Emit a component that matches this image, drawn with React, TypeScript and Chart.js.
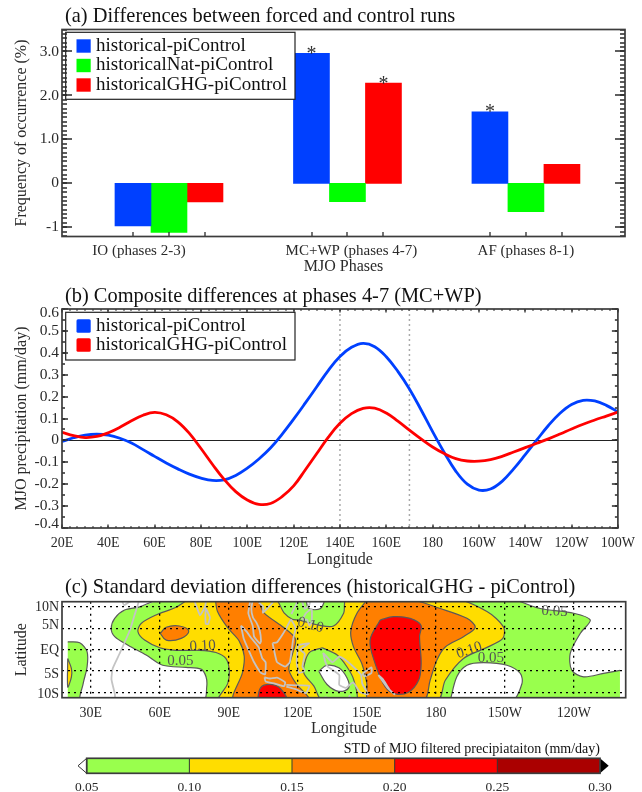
import { useEffect, useRef } from 'react';
import { Chart, registerables } from 'chart.js';
Chart.register(...registerables);

const SERIF = '"Liberation Serif", "Times New Roman", serif';
const BLUE = '#0040FF';
const GREEN = '#00FF00';
const RED = '#FF0000';
const INK = '#2a2a2a';
const AXIS = '#2a2a2a';

// ---------- Panel (a)
const phaseCenters = [1, 2, 3];
const phaseLabels = ['IO (phases 2-3)', 'MC+WP (phases 4-7)', 'AF (phases 8-1)'];
const historicalBars = [-0.97, 2.96, 1.625];
const natBars = [-1.12, -0.42, -0.645];
const ghgBars = [-0.425, 2.28, 0.43];
const historicalStars = [false, true, true];
const natStars = [false, false, false];
const ghgStars = [false, true, false];
const phaseTicks = [0.8, 1, 1.2, 1.8, 2, 2.2, 2.8, 3, 3.2];
const freqTicks = [-1, 0, 1, 2, 3];
const freqLabels = ['-1', '0', '1.0', '2.0', '3.0'];

// ---------- Panel (b)
const lons = [20, 25, 30, 35, 40, 45, 50, 55, 60, 65, 70, 75, 80, 85, 90, 95, 100, 105, 110, 115, 120, 125, 130, 135, 140, 145, 150, 155, 160, 165, 170, 175, 180, 185, 190, 195, 200, 205, 210, 215, 220, 225, 230, 235, 240, 245, 250, 255, 260];
const historicalPrecip = [-0.005, 0.012, 0.024, 0.028, 0.024, 0.01, -0.012, -0.042, -0.073, -0.103, -0.13, -0.154, -0.172, -0.183, -0.18, -0.16, -0.127, -0.085, -0.035, 0.028, 0.097, 0.17, 0.245, 0.32, 0.383, 0.425, 0.443, 0.428, 0.382, 0.315, 0.235, 0.14, 0.04, -0.055, -0.14, -0.2, -0.227, -0.222, -0.187, -0.13, -0.065, 0.002, 0.068, 0.124, 0.164, 0.183, 0.18, 0.16, 0.13];
const ghgPrecip = [0.037, 0.022, 0.013, 0.018, 0.035, 0.06, 0.09, 0.115, 0.128, 0.117, 0.085, 0.032, -0.037, -0.11, -0.178, -0.234, -0.272, -0.292, -0.288, -0.257, -0.208, -0.135, -0.06, 0.015, 0.078, 0.122, 0.146, 0.147, 0.125, 0.088, 0.047, 0.007, -0.03, -0.06, -0.083, -0.094, -0.095, -0.088, -0.073, -0.053, -0.033, -0.013, 0.007, 0.029, 0.052, 0.074, 0.093, 0.111, 0.129];
const lonTicksB = [20, 40, 60, 80, 100, 120, 140, 160, 180, 200, 220, 240, 260];
const lonLabelsB = ['20E', '40E', '60E', '80E', '100E', '120E', '140E', '160E', '180', '160W', '140W', '120W', '100W'];
const precipTicks = [-0.4, -0.3, -0.2, -0.1, 0, 0.1, 0.2, 0.3, 0.4, 0.5, 0.6];
const precipLabels = ['-0.4', '-0.3', '-0.2', '-0.1', '0', '0.1', '0.2', '0.3', '0.4', '0.5', '0.6'];
const boxLons = [140, 170];

// ---------- Panel (c): contours as [lon, lat]
type P = [number, number];
const baseGreen: P[] = [[20, -12], [260, -12], [260, 12], [20, 12], [20, -12]];
const whiteNorthWest: P[] = [[15, 12], [60.3, 12], [51.2, 10], [44.7, 9.25], [40.4, 7.3], [38.9, 4.9], [40.4, 3], [46.2, 1], [54.1, -1.3], [61.3, -3.7], [71.4, -4.2], [77.9, -4.6], [80.1, -6.4], [80.4, -8.8], [78.9, -12], [26, -12], [26.7, -8], [28.4, -4.1], [28.4, -0.5], [25.2, 1.6], [20, 1.8], [15, 1.8], [15, 12]];
const whiteEast: P[] = [[213, 12], [225.4, 9.6], [239.9, 8.5], [247.1, 6.9], [242.8, 3.8], [238.4, -0.9], [239.1, -4.9], [244.2, -6.4], [252.9, -5.6], [260.1, -4.9], [270, -4.9], [270, 12], [213, 12]];
const whiteSouth: P[] = [[186.2, -12], [189.1, -6.4], [193.5, -3.7], [200.7, -3.1], [210.9, -3.7], [216.7, -5.6], [217.4, -8], [213.1, -12], [186.2, -12]];
const whiteTop: P[] = [[123.4, 12], [124.8, 9.6], [129.9, 9.6], [131.3, 12], [123.4, 12]];
const yellowMain: P[] = [[72.9, 12], [67.1, 9.9], [58.4, 8.1], [51.9, 6.1], [50.5, 4.2], [53.4, 2.2], [60, 0.4], [67.1, -0.2], [77.2, -0.2], [84.4, -0.7], [88.7, -2.1], [90.2, -4.9], [89.5, -8], [85.8, -12], [180.4, -12], [184.1, -7.2], [192, -2.1], [202.2, 0.5], [209.1, 2.6], [209.4, 5.3], [202.2, 8.9], [187.7, 12], [141.3, 12], [139.9, 8.5], [135.5, 5.5], [129.1, 5.7], [120.5, 6.9], [117.6, 7.1], [114, 8.6], [109.7, 12], [72.9, 12]];
const yellowWest: P[] = [[20, -2.1], [21.6, -4.5], [21.6, -6.4], [20, -8.8], [20, -2.1]];
const greenMid: P[] = [[130.6, 0.4], [125.5, -0.5], [123.4, -2.4], [122.6, -5.5], [127, -8.6], [130.6, -12], [145.3, -12], [144.3, -7.1], [141.4, -4.1], [137.1, -1.3], [130.6, 0.4]];
const whiteHole: P[] = [[129.1, -5.1], [132.7, -3.7], [137.8, -4.3], [141.4, -6.7], [142.1, -9], [137.8, -9.8], [132.7, -8.2], [129.1, -5.1]];
const orangeSmall: P[] = [[60.2, 3.8], [62.8, 5.2], [68.5, 5.5], [72.6, 4.3], [69.3, 2.6], [62.8, 2.2], [60.2, 3.8]];
const orangeCentre: P[] = [[84.1, 12], [85.1, 8.9], [89.5, 5.1], [94.5, 2], [96.7, -1.6], [95.9, -5.5], [92.3, -12], [124.8, -12], [119, -7.8], [116.1, -4.7], [117.6, -1.2], [119, 2.4], [114, 5.1], [105.3, 8.6], [101.7, 12], [84.1, 12]];
const orangeEast: P[] = [[150.7, 12], [145.7, 8.5], [143, 4.2], [144.2, 0.6], [147.8, -3.3], [150, -8], [150.7, -12], [174.6, -12], [177.5, -7.2], [180.4, -2.5], [184.1, 0.6], [192, 3], [197.1, 5.2], [193.5, 7.3], [181.9, 9.6], [167.4, 12], [150.7, 12]];
const redEast: P[] = [[155.8, 6.9], [151.4, 2.2], [153.6, -3.3], [158, -8.8], [162.3, -10.4], [168.1, -10], [172.5, -7.2], [173.6, -3.3], [172.9, 3], [173.5, 5.7], [168.8, 7.3], [161.6, 7.7], [155.8, 6.9]];
const redSouth: P[] = [[102.4, -12], [103.9, -8.9], [108.2, -8.2], [112.5, -9.2], [115, -12], [102.4, -12]];

const C_GREEN = '#99FF4D';
const C_YELLOW = '#FFDD00';
const C_ORANGE = '#FF7F00';
const C_RED = '#FF0000';
const C_DARK = '#AA0000';

// coastlines [lon, lat]
const coastAfrica: P[] = [[43.3, 11.8], [44.5, 10.4], [47, 11.2], [51, 11.8], [49, 8], [47, 4.5], [42.5, -1], [39.5, -4.5], [39, -7], [40.5, -10.5], [40.5, -12]];
const coastIndia: P[] = [[74.6, 12], [76, 10], [77.5, 8], [79, 9.3], [79.8, 10.3], [80.2, 12]];
const coastLanka: P[] = [[80, 9.7], [81.8, 7.5], [81, 6], [80, 6], [79.8, 8], [80, 9.7]];
const coastMalay: P[] = [[99.5, 12], [98.5, 8.5], [100.4, 5.5], [101, 3], [103.5, 1.4], [104, 2], [103.4, 4.5], [102, 6.3], [100.5, 7.5], [99.8, 9.5], [100.5, 12]];
const coastIndochina: P[] = [[103, 11], [105, 10], [104.8, 8.6], [106.5, 9.5], [109, 11], [109.3, 12]];
const coastSumatra: P[] = [[95.3, 5.6], [98, 4], [100, 2.5], [103, 0.5], [104.5, -2], [106, -3], [105.8, -5.8], [104, -5.5], [101, -3], [98.5, 0], [96.5, 2.5], [95.3, 5.6]];
const coastJava: P[] = [[105.5, -6.5], [108, -6.8], [111, -6.6], [114.5, -7.7], [114, -8.6], [110, -8], [106, -7.5], [105.5, -6.5]];
const coastLesser: P[] = [[115, -8.3], [119, -8.4], [125, -8.5], [123.5, -10.2], [119, -9.3], [115, -8.7]];
const coastBorneo: P[] = [[109, 1.5], [111, 1.7], [113, 3.2], [115, 5], [117, 7], [119, 5], [118, 2.5], [117.5, 0.5], [116.5, -3], [114.5, -4], [111, -3], [110, -1], [109, 1.5]];
const coastSulawesi: P[] = [[120, 1], [125, 1.5], [121, 0], [123, -1], [122, -4], [123, -5], [120.5, -5.5], [119.5, -3], [120, 1]];
const coastMindanao: P[] = [[122, 7], [123.5, 8.5], [126, 9.5], [126, 6.5], [125, 5.6], [124, 7], [122, 7]];
const coastVisayas: P[] = [[117.2, 8.3], [119.5, 10.8], [120, 12], [122, 11], [123, 9.5], [125, 10.5], [125.5, 12]];
const coastGuinea: P[] = [[131, -0.8], [135, -3], [138, -1.7], [141, -2.6], [145, -4.5], [147.5, -6], [148, -8], [150.5, -10.5], [147, -10], [144, -7.7], [141, -9], [138, -8.3], [138, -6], [133, -4], [132, -3], [131, -0.8]];
const coastBritain: P[] = [[148, -5.7], [152, -4.2], [152, -5.5], [149, -6.3], [148, -5.7]];
const coastSolomon: P[] = [[155, -6], [157, -7], [160, -9.5], [162, -10.5], [159, -9], [155, -6]];
const coastAustralia: P[] = [[130, -12], [132, -11.2], [136, -12], [141.5, -12], [142.5, -10.8], [143, -12]];
const coasts = [coastAfrica, coastIndia, coastLanka, coastMalay, coastIndochina, coastSumatra, coastJava, coastLesser, coastBorneo, coastSulawesi, coastMindanao, coastVisayas, coastGuinea, coastBritain, coastSolomon, coastAustralia];

const lonTicksC = [30, 60, 90, 120, 150, 180, 210, 240];
const lonLabelsC = ['30E', '60E', '90E', '120E', '150E', '180', '150W', '120W'];
const latTicks = [-10, -5, 0, 5, 10];
const latLabels = ['10S', '5S', 'EQ', '5N', '10N'];
const contourTexts = ['0.10', '0.05', '0.10', '0.05', '0.10', '0.05'];
const contourLons = [78.6, 69, 125.5, 231.6, 194.5, 203.9];
const contourLats = [0.8, -2.7, 5.7, 8.9, -0.2, -2.1];
const contourAngles = [-3, 0, 15, 3, -18, 0];

// ---------- Colour bar
const levels = [0.05, 0.1, 0.15, 0.2, 0.25, 0.3];
const levelColors = [C_GREEN, C_YELLOW, C_ORANGE, C_RED, C_DARK];

function range(a: number, b: number, s: number) {
  const out: number[] = [];
  const n = Math.round((b - a) / s);
  for (let i = 0; i <= n; i++) out.push(a + i * s);
  return out;
}

const setTicks = (vals: number[]) => (axis: any) => {
  axis.ticks = vals.map((value) => ({ value }));
};
const labelFor = (vals: number[], labels: string[]) => (v: any) => {
  const i = vals.findIndex((t) => Math.abs(t - v) < 1e-6);
  return i >= 0 ? labels[i] : '';
};

function xScale(min: number, max: number, ticks: number[], labels: string[], height: number, size: number, pad: number, title: string | null, titlePad: number, extra: any = {}) {
  return {
    type: 'linear', min, max, offset: false,
    afterBuildTicks: setTicks(ticks),
    afterFit: (s: any) => { s.height = height; },
    border: { display: false },
    grid: { display: false, drawTicks: false, offset: false },
    ticks: { autoSkip: false, maxRotation: 0, minRotation: 0, padding: pad, color: INK, font: { family: SERIF, size }, callback: labelFor(ticks, labels) },
    title: title ? { display: true, text: title, color: INK, font: { family: SERIF, size: 16 }, padding: { top: 0, bottom: titlePad } } : { display: false },
    ...extra,
  };
}
function yScale(min: number, max: number, ticks: number[], labels: string[], size: number, title: string, extra: any = {}) {
  return {
    type: 'linear', min, max,
    afterBuildTicks: setTicks(ticks),
    afterFit: (s: any) => { s.width = 62; },
    border: { display: false },
    grid: { display: false, drawTicks: false },
    ticks: { autoSkip: false, padding: 3, color: INK, font: { family: SERIF, size }, callback: labelFor(ticks, labels) },
    title: { display: true, text: title, color: INK, font: { family: SERIF, size: 16 }, padding: { top: 12.4, bottom: 0 } },
    ...extra,
  };
}
function titleOpt(text: string, top: number, bottom: number, size = 20.4, align = 'start') {
  return {
    display: true, text, align, fullSize: false, color: '#111',
    font: { family: SERIF, size, weight: 'normal', lineHeight: size === 20.4 ? '20px' : '16px' },
    padding: { top, bottom },
  };
}

type TickSpec = { x?: [number[], number][]; xTop?: [number[], number][]; y?: [number[], number][]; nudge?: Record<string, number>; xNudge?: Record<string, number> };
function framePlugin(spec: TickSpec, before?: (chart: any) => void, shift = 3) {
  return {
    id: 'frameTicks',
    afterLayout(chart: any) {
      if (chart.titleBlock && shift) { chart.titleBlock.left += shift; chart.titleBlock.right += shift; }
    },
    beforeDraw(chart: any) {
      if (spec.nudge) {
        chart.scales.y.getLabelItems(chart.chartArea).forEach((it: any) => {
          const d = spec.nudge![it.label];
          if (d && !it.__n) { it.options.translation[1] += d; it.__n = true; }
        });
      }
      if (spec.xNudge) {
        chart.scales.x.getLabelItems(chart.chartArea).forEach((it: any) => {
          const d = spec.xNudge![it.label];
          if (d && !it.__n) { it.options.translation[0] += d; it.__n = true; }
        });
      }
    },
    afterDraw(chart: any) {
      const { ctx, chartArea: a, scales } = chart;
      if (before) before(chart);
      ctx.save();
      ctx.strokeStyle = AXIS;
      ctx.lineWidth = 1.3;
      ctx.setLineDash([]);
      const ys = spec.y || [];
      ys.forEach(([vals, len]) => {
        vals.forEach((v) => {
          const p = Math.round(scales.y.getPixelForValue(v));
          ctx.beginPath();
          ctx.moveTo(a.left, p); ctx.lineTo(a.left + len, p);
          ctx.moveTo(a.right, p); ctx.lineTo(a.right - len, p);
          ctx.stroke();
        });
      });
      const xs = spec.x || [];
      xs.forEach(([vals, len]) => {
        vals.forEach((v) => {
          const p = Math.round(scales.x.getPixelForValue(v));
          ctx.beginPath(); ctx.moveTo(p, a.bottom); ctx.lineTo(p, a.bottom - len); ctx.stroke();
        });
      });
      const xt = spec.xTop || [];
      xt.forEach(([vals, len]) => {
        vals.forEach((v) => {
          const p = Math.round(scales.x.getPixelForValue(v));
          ctx.beginPath(); ctx.moveTo(p, a.top); ctx.lineTo(p, a.top + len); ctx.stroke();
        });
      });
      ctx.strokeStyle = '#3c3c3c';
      ctx.lineWidth = 1.7;
      ctx.strokeRect(a.left, a.top, a.right - a.left, a.bottom - a.top);
      ctx.restore();
    },
  };
}

function drawLegend(chart: any, box: number[], rowY: number[], radius: number) {
  const { ctx } = chart;
  ctx.save();
  ctx.fillStyle = '#fff';
  ctx.strokeStyle = '#222';
  ctx.lineWidth = 1.2;
  ctx.fillRect(box[0], box[1], box[2], box[3]);
  ctx.strokeRect(box[0], box[1], box[2], box[3]);
  chart.data.datasets.forEach((d: any, i: number) => {
    ctx.fillStyle = d.swatch || d.backgroundColor;
    ctx.beginPath();
    ctx.roundRect(76.5, rowY[i] - 6.7, 14.2, 13.4, radius);
    ctx.fill();
    ctx.fillStyle = '#111';
    ctx.font = `19px ${SERIF}`;
    ctx.textAlign = 'left';
    ctx.textBaseline = 'middle';
    ctx.fillText(d.label, 96, rowY[i]);
  });
  ctx.restore();
}

function configA() {
  const sets = [historicalBars, natBars, ghgBars];
  const flags = [historicalStars, natStars, ghgStars];
  const names = ['historical-piControl', 'historicalNat-piControl', 'historicalGHG-piControl'];
  const colors = [BLUE, GREEN, RED];
  return {
    type: 'bar',
    data: {
      datasets: sets.map((vals, i) => ({
        label: names[i],
        data: vals.map((y, k) => ({ x: phaseCenters[k], y })),
        backgroundColor: colors[i],
        barThickness: 36,
      })),
    },
    options: {
      animation: false, responsive: false, devicePixelRatio: 1,
      layout: { autoPadding: false, padding: { right: 17 } },
      plugins: { legend: { display: false }, tooltip: { enabled: false }, title: titleOpt('(a) Differences between forced and control runs', 7, 2.5) },
      scales: {
        x: xScale(0.4006, 3.555, phaseTicks, phaseLabels.flatMap((l) => ['', l, '']), 278 - 236.5, 15, 6, 'MJO Phases', 1.4),
        y: yScale(-1.21, 3.5, freqTicks, freqLabels, 15.5, 'Frequency of occurrence (%)'),
      },
    },
    plugins: [framePlugin({ x: [[phaseTicks, 4.5]], y: [[range(-1.2, 3.5, 0.1), 5], [freqTicks, 10]], xNudge: { 'IO (phases 2-3)': -30, 'MC+WP (phases 4-7)': 4 } }, (chart: any) => {
      const { ctx } = chart;
      drawLegend(chart, [65.7, 32.3, 229.3, 67], [46, 65.5, 85], 0);
      ctx.save();
      ctx.fillStyle = '#333';
      ctx.font = `20px ${SERIF}`;
      ctx.textAlign = 'center';
      ctx.textBaseline = 'alphabetic';
      flags.forEach((row, i) => row.forEach((on, k) => {
        if (!on) return;
        const el = chart.getDatasetMeta(i).data[k];
        ctx.fillText('*', el.x, el.y + 6.4);
      }));
      ctx.restore();
    })],
  };
}

function configB() {
  return {
    type: 'scatter',
    data: {
      datasets: [
        { label: 'historical-piControl', data: lons.map((x, i) => ({ x, y: historicalPrecip[i] })), borderColor: BLUE, backgroundColor: BLUE, swatch: BLUE, order: 2 },
        { label: 'historicalGHG-piControl', data: lons.map((x, i) => ({ x, y: ghgPrecip[i] })), borderColor: RED, backgroundColor: RED, swatch: RED, order: 1 },
      ].map((d) => ({ ...d, showLine: true, pointRadius: 0, borderWidth: 2.8, tension: 0.4, capBezierPoints: false })),
    },
    options: {
      animation: false, responsive: false, devicePixelRatio: 1,
      layout: { autoPadding: false, padding: { right: 17 } },
      plugins: { legend: { display: false }, tooltip: { enabled: false }, title: titleOpt('(b) Composite differences at phases 4-7 (MC+WP)', 7, 2) },
      scales: {
        x: xScale(20, 260, lonTicksB, lonLabelsB, 42, 14, 7, 'Longitude', 0.4),
        y: yScale(-0.4, 0.6, precipTicks, precipLabels, 15.5, 'MJO precipitation (mm/day)'),
      },
    },
    plugins: [
      {
        id: 'refLines',
        beforeDatasetsDraw(chart: any) {
          const { ctx, chartArea: a, scales } = chart;
          ctx.save();
          ctx.strokeStyle = '#aaa';
          ctx.lineWidth = 1.5;
          ctx.setLineDash([2, 3]);
          boxLons.forEach((v) => {
            const p = scales.x.getPixelForValue(v);
            ctx.beginPath(); ctx.moveTo(p, a.top); ctx.lineTo(p, a.bottom); ctx.stroke();
          });
          ctx.setLineDash([]);
          ctx.strokeStyle = '#222';
          ctx.lineWidth = 1;
          const z = Math.round(scales.y.getPixelForValue(0)) + 0.5;
          ctx.beginPath(); ctx.moveTo(a.left, z); ctx.lineTo(a.right, z); ctx.stroke();
          ctx.restore();
        },
      },
      framePlugin({
        x: [[range(20, 260, 20 / 6), 1.8], [lonTicksB, 3.5]],
        xTop: [[range(20, 260, 20 / 6), 1.8], [lonTicksB, 3.5]],
        y: [[range(-0.4, 0.6, 0.05), 3], [precipTicks, 6]],
        nudge: { '0.6': 4, '-0.4': -4 },
      }, (chart: any) => drawLegend(chart, [65.7, 32.3, 229.3, 47.7], [46, 65], 1.5)),
    ],
  };
}

function configC() {
  const fills: [P[], string, boolean, number][] = [
    [baseGreen, C_GREEN, false, 0],
    [whiteNorthWest, '#fff', false, 0.3],
    [whiteEast, '#fff', false, 0.3],
    [whiteSouth, '#fff', true, 0.3],
    [whiteTop, '#fff', true, 0.3],
    [yellowMain, C_YELLOW, true, 0.3],
    [yellowWest, C_YELLOW, true, 0.3],
    [greenMid, C_GREEN, true, 0.3],
    [whiteHole, '#fff', true, 0.4],
    [orangeSmall, C_ORANGE, true, 0.4],
    [orangeCentre, C_ORANGE, true, 0.3],
    [orangeEast, C_ORANGE, true, 0.3],
    [redEast, C_RED, true, 0.35],
    [redSouth, C_RED, true, 0.35],
  ];
  const datasets: any[] = [];
  const pts = (p: P[]) => p.map(([x, y]) => ({ x, y }));
  fills.forEach(([poly, color, stroke, tension]) => {
    datasets.push({ data: pts(poly), showLine: true, fill: 'shape', backgroundColor: color, borderColor: '#5a5a5a', borderWidth: stroke ? 1.2 : 0, pointRadius: 0, tension, capBezierPoints: false });
    if (poly === whiteNorthWest) datasets.push({ data: pts(poly.slice(1, -2)), showLine: true, borderColor: '#5a5a5a', borderWidth: 1.2, pointRadius: 0, tension, capBezierPoints: false });
    if (poly === whiteEast) datasets.push({ data: pts(poly.slice(0, 10)), showLine: true, borderColor: '#5a5a5a', borderWidth: 1.2, pointRadius: 0, tension, capBezierPoints: false });
  });
  coasts.forEach((c) => datasets.push({ data: pts(c), showLine: true, borderColor: '#c4c4c4', borderWidth: 1.8, pointRadius: 0, tension: 0.15, capBezierPoints: false }));
  datasets.forEach((d, i) => { d.order = datasets.length - i; });
  const grid = { display: true, z: 1, drawTicks: false, color: '#000', lineWidth: 1.3 };
  return {
    type: 'scatter',
    data: { datasets },
    options: {
      animation: false, responsive: false, devicePixelRatio: 1,
      layout: { autoPadding: false, padding: { right: 16.3 } },
      plugins: { legend: { display: false }, tooltip: { enabled: false }, filler: { drawTime: 'beforeDatasetDraw', propagate: false }, title: titleOpt('(c) Standard deviation differences (historicalGHG - piControl)', 8, 3.7) },
      scales: {
        x: xScale(17.5, 262.5, lonTicksC, lonLabelsC, 170 - 127.7, 14, 7, 'Longitude', 1.4, { grid, border: { display: false, dash: [2, 4] } }),
        y: yScale(-11.3, 11.2, latTicks, latLabels, 14, 'Latitude', { grid, border: { display: false, dash: [2, 4] } }),
      },
    },
    plugins: [framePlugin({ nudge: { '10N': 0.7, '5N': -3.3, EQ: 0.7, '5S': 3.7, '10S': 2.3 } }, (chart: any) => {
      const { ctx, scales } = chart;
      ctx.save();
      ctx.fillStyle = '#555';
      ctx.font = `15px ${SERIF}`;
      ctx.textAlign = 'center';
      ctx.textBaseline = 'middle';
      contourTexts.forEach((t, i) => {
        ctx.save();
        ctx.translate(scales.x.getPixelForValue(contourLons[i]), scales.y.getPixelForValue(contourLats[i]));
        ctx.rotate((contourAngles[i] * Math.PI) / 180);
        ctx.fillText(t, 0, 0);
        ctx.restore();
      });
      ctx.restore();
    })],
  };
}

function configBar() {
  return {
    type: 'bar',
    data: {
      labels: ['std'],
      datasets: levelColors.map((c, i) => ({
        data: [[levels[i], levels[i + 1]]],
        backgroundColor: c,
        borderColor: '#333',
        borderWidth: 0,
        barPercentage: 1,
        categoryPercentage: 1,
        grouped: false,
      })),
    },
    options: {
      indexAxis: 'y',
      animation: false, responsive: false, devicePixelRatio: 1,
      layout: { autoPadding: false, padding: { left: 86.7, right: 42 } },
      plugins: { legend: { display: false }, tooltip: { enabled: false }, title: titleOpt('STD of MJO filtered precipiataiton (mm/day)', 1, 1.3, 14, 'end') },
      scales: {
        x: xScale(0.05, 0.3, levels, levels.map((v) => v.toFixed(2)), 18.7, 13.5, 6, null, 0),
        y: { display: false },
      },
    },
    plugins: [framePlugin({}, (chart: any) => {
      const { ctx, chartArea: a, scales } = chart;
      const m = (a.top + a.bottom) / 2;
      ctx.save();
      ctx.strokeStyle = '#333';
      ctx.lineWidth = 1;
      levels.slice(1, -1).forEach((v) => {
        const p = scales.x.getPixelForValue(v);
        ctx.beginPath(); ctx.moveTo(p, a.top); ctx.lineTo(p, a.bottom); ctx.stroke();
      });
      ctx.fillStyle = '#fff';
      ctx.beginPath(); ctx.moveTo(a.left, a.top); ctx.lineTo(a.left - 8.7, m); ctx.lineTo(a.left, a.bottom); ctx.closePath(); ctx.fill(); ctx.stroke();
      ctx.fillStyle = '#000';
      ctx.beginPath(); ctx.moveTo(a.right, a.top); ctx.lineTo(a.right + 8.7, m); ctx.lineTo(a.right, a.bottom); ctx.closePath(); ctx.fill();
      ctx.restore();
    }, 0)],
  };
}

const panels = [
  { top: 0, height: 278, make: configA },
  { top: 280, height: 290, make: configB },
  { top: 570, height: 170, make: configC },
  { top: 740, height: 52, make: configBar },
];

function Panel({ top, height, make }: any) {
  const ref = useRef<HTMLCanvasElement>(null);
  useEffect(() => {
    const chart = new Chart(ref.current as any, make());
    return () => chart.destroy();
  }, [make]);
  return <canvas ref={ref} width={642} height={height} style={{ position: 'absolute', left: 0, top, width: 642, height, filter: 'blur(0.35px)' }} />;
}

export default function App() {
  return (
    <div style={{ position: 'absolute', left: 0, top: 0, width: 642, height: 792, overflow: 'hidden', background: '#fff' }}>
      {panels.map((p) => <Panel key={p.top} {...p} />)}
    </div>
  );
}
